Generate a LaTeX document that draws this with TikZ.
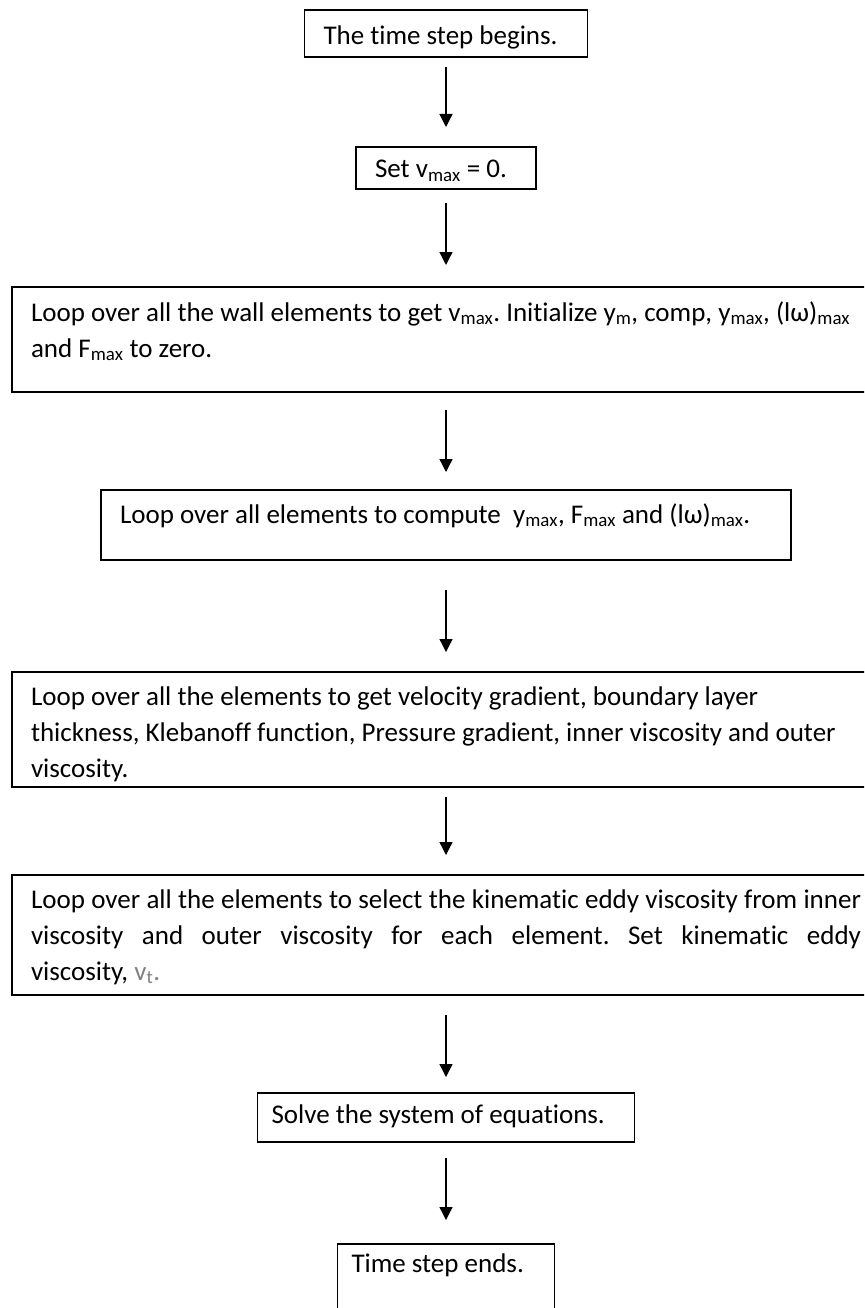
\documentclass[tikz,border=0pt]{standalone}
\usepackage{fontspec}
\setmainfont{Carlito}[Ligatures={NoCommon,NoContextual,NoRare}]
\usepackage{xcolor}
\usetikzlibrary{positioning, arrows.meta}
\frenchspacing

\begin{document}
\begin{tikzpicture}[node distance=98pt, font=\fontsize{27}{36}\selectfont]
\tikzstyle{block} = [rectangle, draw, line width=1.6pt, outer sep=0pt,
    inner xsep=19pt, inner ysep=0pt, align=flush left]
\tikzstyle{line} = [draw, line width=1.3pt, -{Triangle[length=13pt, width=13pt]}]

\useasboundingbox (0pt,0pt) rectangle (864pt,-1308pt);
\clip (0pt,0pt) rectangle (864pt,-1308pt);

\node (s1) [block, text width=245pt, text height=35pt, text depth=12pt] at (446pt,-33.5pt)
    {The time step begins.};
\node (s2) [block, below=90pt of s1, text width=142pt, text height=31pt, text depth=11pt]
    {Set v\textsubscript{max} = 0.};
\node (s3) [block, below=of s2, text width=830pt, text height=34pt, text depth=71pt]
    {Loop over all the wall elements to get v\textsubscript{max}. Initialize y\textsubscript{m}, comp, y\textsubscript{max}, (lω)\textsubscript{max}\\
     and F\textsubscript{max} to zero.};
\node (s4) [block, below=of s3, text width=652pt, text height=33pt, text depth=37pt]
    {Loop over all elements to compute \ y\textsubscript{max}, F\textsubscript{max} and (lω)\textsubscript{max}.};
\node (s5) [block, below=112pt of s4, text width=830pt, text height=33pt, text depth=82pt]
    {Loop over all the elements to get velocity gradient, boundary layer\\
     thickness, Klebanoff function, Pressure gradient, inner viscosity and outer\\
     viscosity.};
\node (s6) [block, below=88pt of s5, align=justify, text width=830pt, text height=33pt, text depth=87pt]
    {Loop over all the elements to select the kinematic eddy viscosity from inner\linebreak
     viscosity and outer viscosity for each element. Set kinematic eddy\linebreak
     viscosity, \textcolor{gray}{v\textsubscript{t}.}};
\node (s7) [block, below=of s6, inner xsep=14pt, text width=349pt, text height=30pt, text depth=19pt]
    {Solve the system of equations.};
\node (s8) [block, below=102pt of s7, inner xsep=14pt, text width=189pt, text height=28pt, text depth=52pt]
    {Time step ends.};

\path[line, shorten <=10pt, shorten >=20pt] (s1) -- (s2);
\path[line, shorten <=14pt, shorten >=22pt] (s2) -- (s3);
\path[line, shorten <=18pt, shorten >=18pt] (s3) -- (s4);
\path[line, shorten <=30pt, shorten >=20pt] (s4) -- (s5);
\path[line, shorten <=10pt, shorten >=20pt] (s5) -- (s6);
\path[line, shorten <=20pt, shorten >=16pt] (s6) -- (s7);
\path[line, shorten <=16pt, shorten >=24pt] (s7) -- (s8);
\end{tikzpicture}
\end{document}
